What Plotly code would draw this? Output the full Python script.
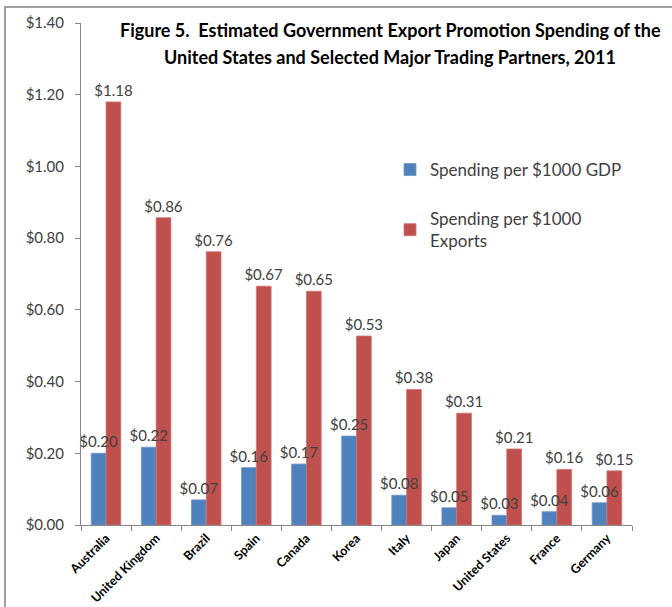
import plotly.graph_objects as go

countries = ["Australia", "United Kingdom", "Brazil", "Spain", "Canada", "Korea",
             "Italy", "Japan", "United States", "France", "Germany"]
per_gdp = [0.20, 0.217, 0.07, 0.16, 0.17, 0.248, 0.083, 0.048, 0.027, 0.037, 0.062]
per_exports = [1.18, 0.857, 0.762, 0.666, 0.652, 0.527, 0.378, 0.312, 0.212, 0.155, 0.151]
gdp_labels = ["$0.20", "$0.22", "$0.07", "$0.16", "$0.17", "$0.25", "$0.08", "$0.05", "$0.03", "$0.04", "$0.06"]
exp_labels = ["$1.18", "$0.86", "$0.76", "$0.67", "$0.65", "$0.53", "$0.38", "$0.31", "$0.21", "$0.16", "$0.15"]
y_ticks = [0, 0.2, 0.4, 0.6, 0.8, 1.0, 1.2, 1.4]
y_tick_text = ["$0.00", "$0.20", "$0.40", "$0.60", "$0.80", "$1.00", "$1.20", "$1.40"]

W, H = 672, 607
ML, MR, MT, MB = 81, 40, 23, 82
PW, PH = W - ML - MR, H - MT - MB

def px_x(p):
    return (p - ML) / PW

def px_y(p):
    return (H - MB - p) / PH

FONT = "Lato, Calibri, sans-serif"
LABEL_FONT = dict(family=FONT, size=15, color="#404040")

fig = go.Figure()
# visible bars
fig.add_trace(go.Bar(
    x=countries, y=per_gdp, name="Spending per $1000 GDP", offsetgroup="gdp",
    marker=dict(color="#4F81BD", line=dict(color="#6C96CC", width=0.8)),
    legendgroup="a",
))
fig.add_trace(go.Bar(
    x=countries, y=per_exports, name="Spending per $1000<br>Exports", offsetgroup="exp",
    marker=dict(color="#C0504D", line=dict(color="#D27573", width=0.8)),
    legendgroup="b",
))
# label layers drawn on top of all bars
fig.add_trace(go.Bar(
    x=countries, y=per_gdp, offsetgroup="gdp", showlegend=False, hoverinfo="skip",
    marker=dict(color="rgba(0,0,0,0)", line=dict(width=0)),
    text=gdp_labels, textposition="outside", cliponaxis=False, constraintext="none",
    textfont=LABEL_FONT,
))
fig.add_trace(go.Bar(
    x=countries, y=per_exports, offsetgroup="exp", showlegend=False, hoverinfo="skip",
    marker=dict(color="rgba(0,0,0,0)", line=dict(width=0)),
    text=exp_labels, textposition="outside", cliponaxis=False, constraintext="none",
    textfont=LABEL_FONT,
))

TITLE_FONT = dict(family=FONT, size=18, color="#000000")
fig.update_layout(
    width=W, height=H,
    margin=dict(l=ML, r=MR, t=MT, b=MB, autoexpand=False),
    paper_bgcolor="white", plot_bgcolor="white",
    barmode="group", bargap=0.41, bargroupgap=0,
    font=dict(family=FONT, color="#404040"),
    showlegend=True,
    legend=dict(x=px_x(390), y=px_y(152), xanchor="left", yanchor="top",
                font=dict(family=FONT, size=17, color="#404040"),
                bgcolor="rgba(0,0,0,0)", tracegroupgap=24,
                itemwidth=30),
    annotations=[
        dict(text="<b>Figure 5.  Estimated Government Export Promotion Spending of the</b>",
             xref="paper", yref="paper", x=px_x(390), y=px_y(30),
             xanchor="center", yanchor="middle", showarrow=False, font=TITLE_FONT),
        dict(text="<b>United States and Selected Major Trading Partners, 2011</b>",
             xref="paper", yref="paper", x=px_x(390), y=px_y(57),
             xanchor="center", yanchor="middle", showarrow=False, font=TITLE_FONT),
    ],
    shapes=[dict(type="rect", xref="paper", yref="paper",
                 x0=px_x(5), y0=px_y(7), x1=px_x(W + 20), y1=px_y(H + 20),
                 line=dict(color="#7F7F7F", width=1.5), layer="below")],
)
fig.update_yaxes(range=[0, 1.4], tickvals=y_ticks, ticktext=y_tick_text, automargin=False,
                 showgrid=False, showline=True, linecolor="#868686", linewidth=1,
                 ticks="outside", ticklen=5, tickcolor="#868686", ticklabelstandoff=8,
                 tickfont=dict(family=FONT, size=15, color="#404040"), zeroline=False)
fig.update_xaxes(showgrid=False, showline=True, linecolor="#868686", linewidth=1,
                 automargin=False,
                 ticks="outside", ticklen=5, tickcolor="#868686", tickson="boundaries",
                 tickangle=-45, ticklabelstandoff=0,
                 tickfont=dict(family=FONT, size=12.5, color="#000000", weight="bold"))

fig.write_html("out.html")
